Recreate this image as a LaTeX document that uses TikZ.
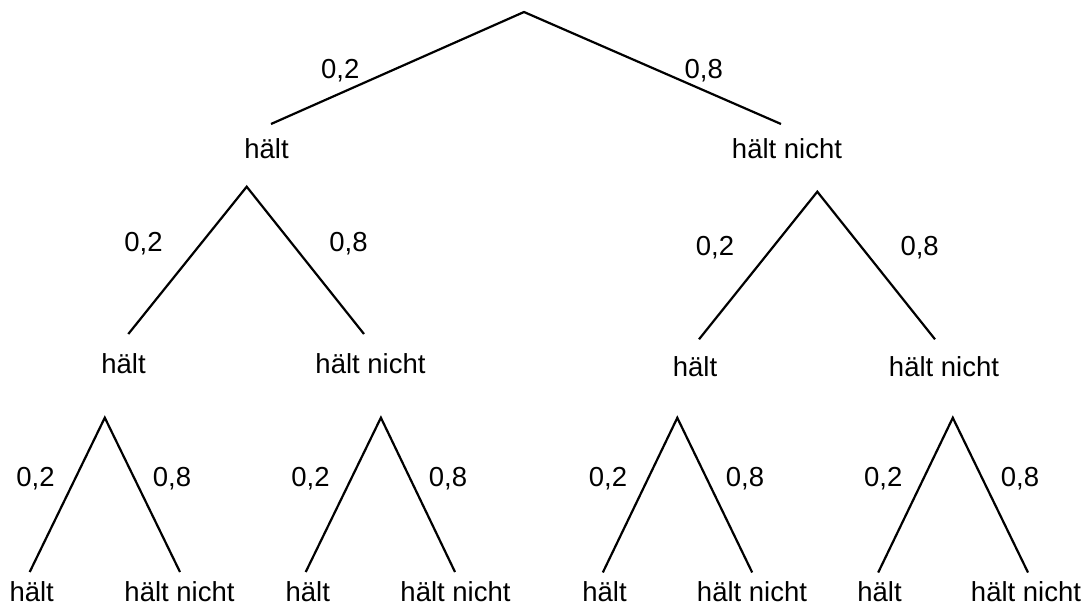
\documentclass[tikz,border=0pt]{standalone}
\usepackage{fontspec}
\setmainfont{Liberation Sans}
\begin{document}
\begin{tikzpicture}[x=1pt,y=-1pt,
  txt/.style={font=\fontsize{27.5}{33}\selectfont, inner sep=0pt, anchor=base},
  branch/.style={line width=2.2pt, line cap=butt, line join=miter}]
\useasboundingbox (0,0) rectangle (1091,610);
% ---- level 0/1
\coordinate (r) at (524,12);
\coordinate (e1L) at (271,124);
\coordinate (e1R) at (781,124);
\draw[branch] (e1L) -- (r) -- (e1R);
\node[txt] (pL) at (340.3,78) {0,2};
\node[txt] (pR) at (703.7,78) {0,8};
\node[txt] (h1L) at (266.5,158) {hält};
\node[txt] (h1R) at (787,158) {hält nicht};
% ---- level 2 left
\coordinate (aL) at (246.7,186.7);
\coordinate (eLL) at (128.3,334);
\coordinate (eLR) at (364,334);
\draw[branch] (eLL) -- (aL) -- (eLR);
\node[txt] (pLL) at (143.5,251.7) {0,2};
\node[txt] (pLR) at (348.5,251.7) {0,8};
\node[txt] (h2LL) at (123.5,373.3) {hält};
\node[txt] (h2LR) at (370.5,373.3) {hält nicht};
% ---- level 2 right
\coordinate (aR) at (817.3,191.7);
\coordinate (eRL) at (699,339.3);
\coordinate (eRR) at (935,339.3);
\draw[branch] (eRL) -- (aR) -- (eRR);
\node[txt] (pRL) at (715,255) {0,2};
\node[txt] (pRR) at (919.6,255) {0,8};
\node[txt] (h2RL) at (695,376.7) {hält};
\node[txt] (h2RR) at (944,376.7) {hält nicht};
% ---- level 3
\coordinate (a3A) at (104.8,417.7);
\coordinate (e3AL) at (29.7,572);
\coordinate (e3AR) at (180,572);
\draw[branch] (e3AL) -- (a3A) -- (e3AR);
\node[txt] (p3AL) at (35.5,486) {0,2};
\node[txt] (p3AR) at (172,486) {0,8};
\node[txt] (h3AL) at (31.7,601.7) {hält};
\node[txt] (h3AR) at (179.5,601.7) {hält nicht};

\coordinate (a3B) at (380.9,417.7);
\coordinate (e3BL) at (305.7,572);
\coordinate (e3BR) at (455,572);
\draw[branch] (e3BL) -- (a3B) -- (e3BR);
\node[txt] (p3BL) at (310.5,486) {0,2};
\node[txt] (p3BR) at (448,486) {0,8};
\node[txt] (h3BL) at (307.8,601.7) {hält};
\node[txt] (h3BR) at (455.5,601.7) {hält nicht};

\coordinate (a3C) at (677.3,417.8);
\coordinate (e3CL) at (602.8,572.5);
\coordinate (e3CR) at (752.2,572.5);
\draw[branch] (e3CL) -- (a3C) -- (e3CR);
\node[txt] (p3CL) at (608,486) {0,2};
\node[txt] (p3CR) at (745,486) {0,8};
\node[txt] (h3CL) at (604.5,601.7) {hält};
\node[txt] (h3CR) at (752,601.7) {hält nicht};

\coordinate (a3D) at (952.8,417.8);
\coordinate (e3DL) at (878.2,572.5);
\coordinate (e3DR) at (1028,572.5);
\draw[branch] (e3DL) -- (a3D) -- (e3DR);
\node[txt] (p3DL) at (883.3,486) {0,2};
\node[txt] (p3DR) at (1020,486) {0,8};
\node[txt] (h3DL) at (879.5,601.7) {hält};
\node[txt] (h3DR) at (1026,601.7) {hält nicht};
\end{tikzpicture}
\end{document}
